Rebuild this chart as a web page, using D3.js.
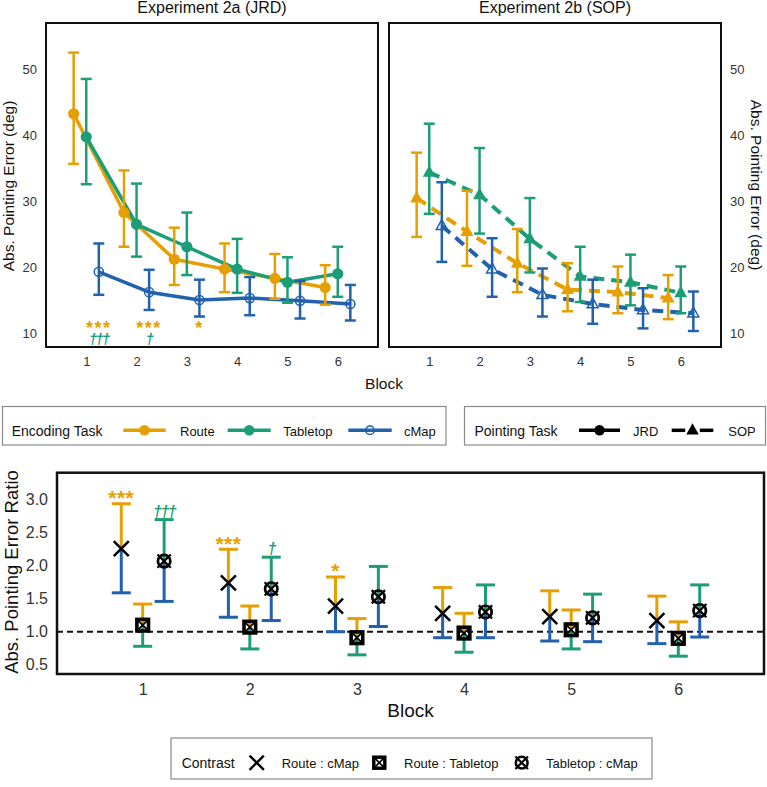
<!DOCTYPE html>
<html>
<head>
<meta charset="utf-8">
<script src="https://cdn.jsdelivr.net/npm/d3@7"></script>
<style>
  html, body { margin: 0; padding: 0; background: #fff; }
  svg { display: block; font-family: "Liberation Sans", Arial, sans-serif; }
</style>
</head>
<body>
<svg id="chart" width="767" height="787"></svg>
<script>
// ---------------- DATA ----------------
const blocks = [1, 2, 3, 4, 5, 6];
const encodingTasks = ["Route", "Tabletop", "cMap"];
const pointingTasks = ["JRD", "SOP"];
const topYTicks = [10, 20, 30, 40, 50];
const bottomYTicks = [0.5, 1.0, 1.5, 2.0, 2.5, 3.0];

// Experiment 2a (JRD)
const jrdRouteMean    = [43.3, 28.3, 21.2, 19.7, 18.3, 16.9];
const jrdRouteLo      = [35.7, 23.1, 17.3, 16.2, 15.2, 14.3];
const jrdRouteHi      = [52.6, 34.7, 26.0, 23.6, 22.0, 20.3];
const jrdTabletopMean = [39.8, 26.5, 23.1, 19.7, 17.7, 19.0];
const jrdTabletopLo   = [32.6, 21.6, 18.8, 16.1, 14.6, 15.5];
const jrdTabletopHi   = [48.6, 32.7, 28.3, 24.3, 21.5, 23.1];
const jrdCMapMean     = [19.3, 16.2, 15.0, 15.3, 14.9, 14.4];
const jrdCMapLo       = [15.8, 13.5, 12.5, 12.7, 12.2, 11.9];
const jrdCMapHi       = [23.6, 19.6, 18.1, 18.5, 17.9, 17.3];

// Experiment 2b (SOP)
const sopRouteMean    = [30.5, 25.4, 20.6, 16.6, 16.2, 15.3];
const sopRouteLo      = [24.6, 20.2, 16.2, 13.3, 13.0, 12.1];
const sopRouteHi      = [37.4, 31.6, 25.8, 20.6, 20.1, 18.8];
const sopTabletopMean = [34.4, 31.0, 24.3, 18.6, 17.7, 16.1];
const sopTabletopLo   = [28.1, 25.1, 19.2, 14.7, 14.2, 13.0];
const sopTabletopHi   = [41.8, 38.1, 30.5, 23.1, 21.9, 20.1];
const sopCMapMean     = [26.3, 19.7, 15.8, 14.4, 13.5, 13.0];
const sopCMapLo       = [20.8, 15.5, 12.5, 11.4, 10.7, 10.3];
const sopCMapHi       = [32.9, 24.4, 19.8, 18.1, 16.8, 16.3];

// significance marks (top-left panel, placed at cMap position)
const topStars   = ["***", "***", "*", "", "", ""];
const topDaggers = ["\u2020\u2020\u2020", "\u2020", "", "", "", ""];
const topStarLevel = 11.4;
const topDaggerLevel = 9.2;

// Ratio contrasts
const contrasts = ["Route : cMap", "Route : Tabletop", "Tabletop : cMap"];
const rcMean = [2.26, 1.74, 1.39, 1.28, 1.23, 1.17];
const rcLo   = [1.59, 1.22, 1.00, 0.91, 0.86, 0.82];
const rcHi   = [2.94, 2.25, 1.83, 1.67, 1.62, 1.54];
const rtMean = [1.10, 1.07, 0.91, 0.98, 1.03, 0.90];
const rtLo   = [0.78, 0.74, 0.65, 0.69, 0.74, 0.63];
const rtHi   = [1.42, 1.39, 1.20, 1.28, 1.33, 1.15];
const tcMean = [2.07, 1.65, 1.53, 1.30, 1.21, 1.32];
const tcLo   = [1.46, 1.17, 1.08, 0.91, 0.85, 0.92];
const tcHi   = [2.70, 2.13, 1.99, 1.71, 1.57, 1.71];
const ratioStars   = ["***", "***", "*", "", "", ""];
const ratioDaggers = ["\u2020\u2020\u2020", "\u2020", "", "", "", ""];
const referenceRatio = 1.0;

// ---------------- STYLE ----------------
const colors = { Route: "#E69F00", Tabletop: "#1B9E77", cMap: "#2161AD" };
const FONT = '"Liberation Sans", Arial, sans-serif';
const tickColor = "#333";

const svg = d3.select("#chart");

// ---------------- TOP PANELS ----------------
const yTop = d3.scaleLinear().domain([7.87, 57.1]).range([347, 23]);
const xLeft = d3.scaleLinear().domain([0.2, 6.8]).range([46, 378]);
const xRight = d3.scaleLinear().domain([0.2, 6.8]).range([389, 721]);
const dodgeTop = { Route: -0.25, Tabletop: 0, cMap: 0.25 };

const jrdSeries = [
  { task: "Route", mean: jrdRouteMean, lo: jrdRouteLo, hi: jrdRouteHi },
  { task: "Tabletop", mean: jrdTabletopMean, lo: jrdTabletopLo, hi: jrdTabletopHi },
  { task: "cMap", mean: jrdCMapMean, lo: jrdCMapLo, hi: jrdCMapHi }
];
const sopSeries = [
  { task: "Route", mean: sopRouteMean, lo: sopRouteLo, hi: sopRouteHi },
  { task: "Tabletop", mean: sopTabletopMean, lo: sopTabletopLo, hi: sopTabletopHi },
  { task: "cMap", mean: sopCMapMean, lo: sopCMapLo, hi: sopCMapHi }
];

function triPath(s) {
  const h = s * 0.9;
  return `M0,${-h * 0.62}L${s / 2},${h * 0.38}L${-s / 2},${h * 0.38}Z`;
}

function drawTopPanel(x, series, dashed, title, axisSide) {
  const g = svg.append("g");
  const [x0, x1] = x.range();
  const [yb, yt] = yTop.range();

  g.append("text").attr("x", (x0 + x1) / 2).attr("y", 13)
    .attr("text-anchor", "middle").attr("font-size", 16).attr("fill", "#111")
    .text(title);

  const line = d3.line().x(d => d[0]).y(d => d[1]);

  series.forEach(s => {
    const pts = blocks.map((b, i) => [x(b + dodgeTop[s.task]), yTop(s.mean[i])]);
    g.append("path").attr("d", line(pts)).attr("fill", "none")
      .attr("stroke", colors[s.task]).attr("stroke-width", dashed ? 4 : 3.5)
      .attr("stroke-dasharray", dashed ? "11,7" : null)
      .attr("stroke-linejoin", "round");
  });

  series.forEach(s => {
    const c = colors[s.task];
    blocks.forEach((b, i) => {
      const cx = x(b + dodgeTop[s.task]);
      const eg = g.append("g").attr("stroke", c).attr("stroke-width", 2.5);
      eg.append("line").attr("x1", cx).attr("x2", cx).attr("y1", yTop(s.lo[i])).attr("y2", yTop(s.hi[i]));
      eg.append("line").attr("x1", cx - 5.5).attr("x2", cx + 5.5).attr("y1", yTop(s.lo[i])).attr("y2", yTop(s.lo[i]));
      eg.append("line").attr("x1", cx - 5.5).attr("x2", cx + 5.5).attr("y1", yTop(s.hi[i])).attr("y2", yTop(s.hi[i]));
    });
    blocks.forEach((b, i) => {
      const cx = x(b + dodgeTop[s.task]), cy = yTop(s.mean[i]);
      const open = s.task === "cMap";
      if (!dashed) {
        g.append("circle").attr("cx", cx).attr("cy", cy).attr("r", open ? 4.6 : 5.6)
          .attr("fill", open ? "none" : c).attr("stroke", c).attr("stroke-width", open ? 1.5 : 0);
      } else {
        g.append("path").attr("transform", `translate(${cx},${cy})`).attr("d", triPath(open ? 11 : 13))
          .attr("fill", open ? "none" : c).attr("stroke", c).attr("stroke-width", open ? 1.5 : 0);
      }
    });
  });

  g.append("rect").attr("x", x0).attr("y", yt).attr("width", x1 - x0).attr("height", yb - yt)
    .attr("fill", "none").attr("stroke", "#111").attr("stroke-width", 2);

  const xa = g.append("g").attr("transform", `translate(0,${yb})`)
    .call(d3.axisBottom(x).tickValues(blocks).tickFormat(d3.format("d")).tickSize(0).tickPadding(10));
  const ya = axisSide === "left"
    ? g.append("g").attr("transform", `translate(${x0},0)`).call(d3.axisLeft(yTop).tickValues(topYTicks).tickSize(0).tickPadding(9))
    : g.append("g").attr("transform", `translate(${x1},0)`).call(d3.axisRight(yTop).tickValues(topYTicks).tickSize(0).tickPadding(9));
  [xa, ya].forEach(a => {
    a.select(".domain").remove();
    a.selectAll("text").attr("font-size", 13).attr("font-family", FONT).attr("fill", tickColor);
  });
  return g;
}

const gL = drawTopPanel(xLeft, jrdSeries, false, "Experiment 2a (JRD)", "left");
drawTopPanel(xRight, sopSeries, true, "Experiment 2b (SOP)", "right");

// significance marks in left panel (stars and daggers stacked in one text element)
blocks.forEach((b, i) => {
  if (!topStars[i] && !topDaggers[i]) return;
  const cx = xLeft(b + dodgeTop.cMap);
  const t = gL.append("text").attr("text-anchor", "middle");
  if (topStars[i]) {
    t.append("tspan").attr("x", cx).attr("y", yTop(topStarLevel) + 10.5)
      .attr("font-size", 18).attr("font-weight", "bold").attr("letter-spacing", 1.5)
      .attr("fill", colors.Route).text(topStars[i]);
  }
  if (topDaggers[i]) {
    t.append("tspan").attr("x", cx).attr("y", yTop(topDaggerLevel) + 5.5)
      .attr("font-size", 14.5).attr("font-style", "italic").attr("font-weight", "bold")
      .attr("letter-spacing", -1.5)
      .attr("fill", colors.Tabletop).text(topDaggers[i]);
  }
});

// top axis titles
svg.append("text").attr("transform", "translate(14,186) rotate(-90)")
  .attr("text-anchor", "middle").attr("font-size", 15.5).attr("fill", "#111")
  .text("Abs. Pointing Error (deg)");
svg.append("text").attr("transform", "translate(751,185) rotate(90)")
  .attr("text-anchor", "middle").attr("font-size", 15.5).attr("fill", "#111")
  .text("Abs. Pointing Error (deg)");
svg.append("text").attr("x", 384).attr("y", 389).attr("text-anchor", "middle")
  .attr("font-size", 15.5).attr("fill", "#111").text("Block");

// ---------------- LEGENDS (top) ----------------
function legendBox(x, y, w, h) {
  svg.append("rect").attr("x", x).attr("y", y).attr("width", w).attr("height", h)
    .attr("fill", "none").attr("stroke", "#8a8a8a").attr("stroke-width", 1.2);
}
legendBox(2.5, 406.5, 443.5, 38.5);
legendBox(464.5, 406.5, 301, 38.5);

const legY = 430.3, legTextY = 436;
svg.append("text").attr("x", 11.7).attr("y", legTextY).attr("font-size", 14).attr("fill", "#111").text("Encoding Task");
const encKeys = [
  { task: "Route", x0: 123.3, x1: 165.7, tx: 180 },
  { task: "Tabletop", x0: 227.7, x1: 270.7, tx: 283.3 },
  { task: "cMap", x0: 348.3, x1: 391.7, tx: 404 }
];
encKeys.forEach(k => {
  const c = colors[k.task];
  svg.append("line").attr("x1", k.x0).attr("x2", k.x1).attr("y1", legY).attr("y2", legY)
    .attr("stroke", c).attr("stroke-width", 3.5);
  const open = k.task === "cMap";
  svg.append("circle").attr("cx", (k.x0 + k.x1) / 2).attr("cy", legY).attr("r", open ? 4.3 : 5.3)
    .attr("fill", open ? "none" : c).attr("stroke", c).attr("stroke-width", open ? 1.5 : 0);
  svg.append("text").attr("x", k.tx).attr("y", legTextY).attr("font-size", 13).attr("fill", "#111").text(k.task);
});

svg.append("text").attr("x", 474.5).attr("y", legTextY).attr("font-size", 14).attr("fill", "#111").text("Pointing Task");
const ptKeys = [
  { task: "JRD", x0: 579, x1: 620, tx: 633, dashed: false },
  { task: "SOP", x0: 671.7, x1: 713.3, tx: 728.3, dashed: true }
];
ptKeys.forEach(k => {
  const cx = (k.x0 + k.x1) / 2;
  if (!k.dashed) {
    svg.append("line").attr("x1", k.x0).attr("x2", k.x1).attr("y1", legY).attr("y2", legY)
      .attr("stroke", "#000").attr("stroke-width", 3.5);
    svg.append("circle").attr("cx", cx).attr("cy", legY).attr("r", 5.3).attr("fill", "#000");
  } else {
    svg.append("line").attr("x1", k.x0).attr("x2", k.x0 + 13.5).attr("y1", legY).attr("y2", legY)
      .attr("stroke", "#000").attr("stroke-width", 3.5);
    svg.append("line").attr("x1", k.x1 - 13.5).attr("x2", k.x1).attr("y1", legY).attr("y2", legY)
      .attr("stroke", "#000").attr("stroke-width", 3.5);
    svg.append("path").attr("transform", `translate(${cx},${legY})`).attr("d", triPath(12.5)).attr("fill", "#000");
  }
  svg.append("text").attr("x", k.tx).attr("y", legTextY).attr("font-size", 13).attr("fill", "#111").text(k.task);
});

// ---------------- BOTTOM PANEL ----------------
const yBot = d3.scaleLinear().domain([0.36, 3.41]).range([674, 472.7]);
const xBot = d3.scaleLinear().domain([0.2, 6.8]).range([57, 764]);
const dodgeBot = [-0.2, 0, 0.2];
const ratioSeries = [
  { name: contrasts[0], mean: rcMean, lo: rcLo, hi: rcHi, up: colors.Route, down: colors.cMap, shape: "x" },
  { name: contrasts[1], mean: rtMean, lo: rtLo, hi: rtHi, up: colors.Route, down: colors.Tabletop, shape: "sq" },
  { name: contrasts[2], mean: tcMean, lo: tcLo, hi: tcHi, up: colors.Tabletop, down: colors.cMap, shape: "cx" }
];
const gB = svg.append("g");

gB.append("line").attr("x1", xBot.range()[0]).attr("x2", xBot.range()[1])
  .attr("y1", yBot(referenceRatio)).attr("y2", yBot(referenceRatio))
  .attr("stroke", "#111").attr("stroke-width", 2).attr("stroke-dasharray", "6,4");

function drawMarker(g, shape, cx, cy, scale) {
  const s = scale || 1;
  const m = g.append("g").attr("transform", `translate(${cx},${cy}) scale(${s})`)
    .attr("fill", "none").attr("stroke", "#000");
  if (shape === "x") {
    m.append("path").attr("d", "M-7.5,-7.5L7.5,7.5M-7.5,7.5L7.5,-7.5").attr("stroke-width", 2.5);
  } else if (shape === "sq") {
    m.append("rect").attr("x", -5.8).attr("y", -5.8).attr("width", 11.6).attr("height", 11.6).attr("stroke-width", 3.6);
    m.append("path").attr("d", "M-5.8,-5.8L5.8,5.8M-5.8,5.8L5.8,-5.8").attr("stroke-width", 1.8);
  } else {
    m.append("circle").attr("r", 6.2).attr("stroke-width", 2.7);
    m.append("path").attr("d", "M-6.6,-6.6L6.6,6.6M-6.6,6.6L6.6,-6.6").attr("stroke-width", 2.3);
  }
}

ratioSeries.forEach((s, si) => {
  blocks.forEach((b, i) => {
    const cx = xBot(b + dodgeBot[si]);
    const cy = yBot(s.mean[i]), yh = yBot(s.hi[i]), yl = yBot(s.lo[i]);
    gB.append("line").attr("x1", cx).attr("x2", cx).attr("y1", cy).attr("y2", yh).attr("stroke", s.up).attr("stroke-width", 3);
    gB.append("line").attr("x1", cx - 9.5).attr("x2", cx + 9.5).attr("y1", yh).attr("y2", yh).attr("stroke", s.up).attr("stroke-width", 3);
    gB.append("line").attr("x1", cx).attr("x2", cx).attr("y1", cy).attr("y2", yl).attr("stroke", s.down).attr("stroke-width", 3);
    gB.append("line").attr("x1", cx - 9.5).attr("x2", cx + 9.5).attr("y1", yl).attr("y2", yl).attr("stroke", s.down).attr("stroke-width", 3);
  });
});
ratioSeries.forEach((s, si) => {
  blocks.forEach((b, i) => drawMarker(gB, s.shape, xBot(b + dodgeBot[si]), yBot(s.mean[i])));
});

blocks.forEach((b, i) => {
  if (ratioStars[i]) {
    gB.append("text").attr("x", xBot(b + dodgeBot[0])).attr("y", yBot(rcHi[i]) - 10.5 + 12)
      .attr("text-anchor", "middle").attr("font-size", 21).attr("font-weight", "bold")
      .attr("letter-spacing", 0.5)
      .attr("fill", colors.Route).text(ratioStars[i]);
  }
  if (ratioDaggers[i]) {
    gB.append("text").attr("x", xBot(b + dodgeBot[2])).attr("y", yBot(tcHi[i]) - 8.7 + 6)
      .attr("text-anchor", "middle").attr("font-size", 16).attr("font-style", "italic")
      .attr("font-weight", "bold").attr("letter-spacing", -1.5)
      .attr("fill", colors.Tabletop).text(ratioDaggers[i]);
  }
});

gB.append("rect").attr("x", xBot.range()[0]).attr("y", yBot.range()[1])
  .attr("width", xBot.range()[1] - xBot.range()[0]).attr("height", yBot.range()[0] - yBot.range()[1])
  .attr("fill", "none").attr("stroke", "#111").attr("stroke-width", 2.5);

const bxa = gB.append("g").attr("transform", `translate(0,${yBot.range()[0]})`)
  .call(d3.axisBottom(xBot).tickValues(blocks).tickFormat(d3.format("d")).tickSize(0).tickPadding(9.5));
const bya = gB.append("g").attr("transform", `translate(${xBot.range()[0]},0)`)
  .call(d3.axisLeft(yBot).tickValues(bottomYTicks).tickFormat(d3.format(".1f")).tickSize(0).tickPadding(9));
[bxa, bya].forEach(a => {
  a.select(".domain").remove();
  a.selectAll("text").attr("font-size", 16).attr("font-family", FONT).attr("fill", tickColor);
});

svg.append("text").attr("transform", "translate(17.5,572) rotate(-90)")
  .attr("text-anchor", "middle").attr("font-size", 18.5).attr("fill", "#111")
  .text("Abs. Pointing Error Ratio");
svg.append("text").attr("x", 410.5).attr("y", 717).attr("text-anchor", "middle")
  .attr("font-size", 19).attr("fill", "#111").text("Block");

// ---------------- LEGEND (bottom) ----------------
legendBox(171, 738, 481, 41);
const cLegY = 762.7, cLegTextY = 767.7;
svg.append("text").attr("x", 181.7).attr("y", cLegTextY).attr("font-size", 14).attr("fill", "#111").text("Contrast");
const contrastKeys = [
  { shape: "x", sx: 256.7, tx: 281.7 },
  { shape: "sq", sx: 379.3, tx: 404 },
  { shape: "cx", sx: 521.7, tx: 546 }
];
contrastKeys.forEach((k, i) => {
  drawMarker(svg, k.shape, k.sx, cLegY, 0.95);
  svg.append("text").attr("x", k.tx).attr("y", cLegTextY).attr("font-size", 13).attr("fill", "#111").text(contrasts[i]);
});
</script>
</body>
</html>
